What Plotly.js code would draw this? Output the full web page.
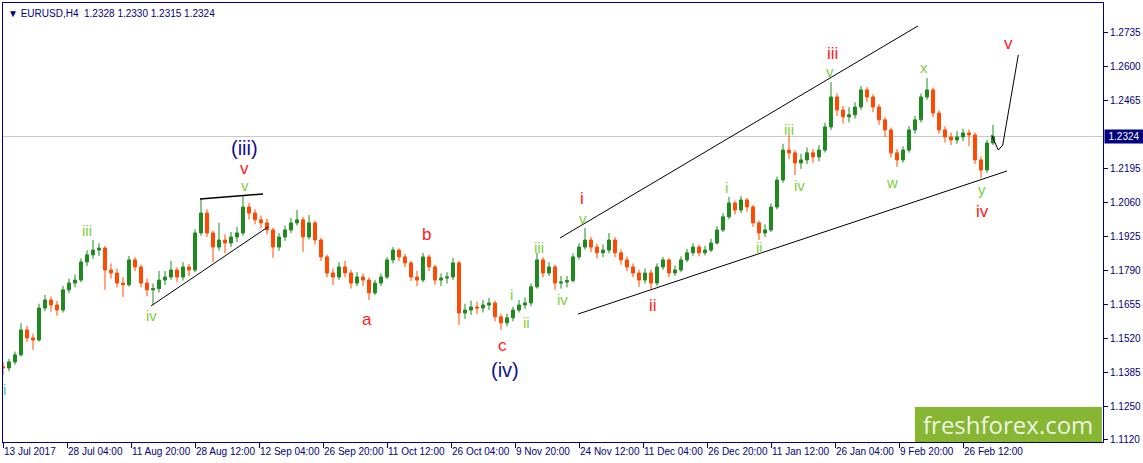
<!DOCTYPE html>
<html>
<head>
<meta charset="utf-8">
<script src="https://cdn.plot.ly/plotly-3.0.1.min.js"></script>
<style>
html,body{margin:0;padding:0;background:#fff;}
#chart{width:1143px;height:463px;}
</style>
</head>
<body>
<div id="chart"></div>
<script>
// Daily OHLC (one value per trading day)
const openP = [
1.1410,1.1405,1.1429,1.1457,1.1556,1.1524,1.1516,1.1643,1.1675,1.1655,
1.1635,1.1715,1.1742,1.1754,1.1826,1.1854,1.1873,1.1881,1.1794,1.1782,
1.1742,1.1735,1.1834,1.1806,1.1742,1.1715,1.1720,1.1754,1.1766,1.1794,
1.1766,1.1806,1.1794,1.1941,1.2020,1.1941,1.1885,1.1913,1.1901,1.1925,
1.1941,1.2044,1.2020,1.1993,1.1981,1.1953,1.1885,1.1925,1.1953,1.1981,
1.1993,1.1925,1.1981,1.1913,1.1846,1.1782,1.1766,1.1806,1.1782,1.1742,
1.1766,1.1754,1.1703,1.1742,1.1766,1.1834,1.1873,1.1846,1.1822,1.1766,
1.1754,1.1846,1.1806,1.1754,1.1762,1.1766,1.1822,1.1623,1.1635,1.1647,
1.1643,1.1655,1.1663,1.1608,1.1584,1.1604,1.1635,1.1655,1.1663,1.1727,
1.1834,1.1782,1.1806,1.1742,1.1746,1.1752,1.1846,1.1885,1.1913,1.1885,
1.1862,1.1873,1.1913,1.1862,1.1834,1.1806,1.1782,1.1754,1.1782,1.1742,
1.1806,1.1834,1.1782,1.1794,1.1834,1.1862,1.1885,1.1862,1.1873,1.1901,
1.1953,1.2005,1.2060,1.2032,1.2072,1.2044,1.1981,1.1941,1.1953,1.2044,
1.2151,1.2270,1.2259,1.2219,1.2231,1.2259,1.2243,1.2270,1.2362,1.2481,
1.2429,1.2402,1.2410,1.2441,1.2509,1.2481,1.2441,1.2390,1.2350,1.2259,
1.2231,1.2270,1.2350,1.2390,1.2481,1.2509,1.2417,1.2350,1.2322,1.2310,
1.2322,1.2338,1.2330,1.2231,1.2191,1.2298];
const highP = [
1.1428,1.1441,1.1470,1.1583,1.1572,1.1541,1.1660,1.1695,1.1688,1.1671,
1.1730,1.1760,1.1776,1.1840,1.1872,1.1913,1.1900,1.1890,1.1820,1.1800,
1.1765,1.1850,1.1845,1.1815,1.1760,1.1740,1.1790,1.1790,1.1830,1.1805,
1.1825,1.1818,1.1955,1.2076,1.2035,1.1950,1.1981,1.1935,1.1945,1.1965,
1.2088,1.2060,1.2035,1.2010,1.1998,1.1962,1.1940,1.1970,1.2000,1.2032,
1.2005,1.2012,1.1990,1.1922,1.1855,1.1800,1.1825,1.1830,1.1795,1.1785,
1.1780,1.1765,1.1755,1.1780,1.1845,1.1885,1.1880,1.1858,1.1830,1.1790,
1.1862,1.1855,1.1815,1.1780,1.1785,1.1842,1.1830,1.1660,1.1672,1.1668,
1.1675,1.1683,1.1672,1.1620,1.1620,1.1648,1.1675,1.1685,1.1740,1.1862,
1.1845,1.1825,1.1815,1.1770,1.1770,1.1860,1.1900,1.1961,1.1925,1.1898,
1.1895,1.1941,1.1925,1.1875,1.1848,1.1820,1.1795,1.1800,1.1795,1.1820,
1.1846,1.1840,1.1812,1.1848,1.1878,1.1900,1.1895,1.1890,1.1918,1.1968,
1.2020,1.2084,1.2070,1.2088,1.2080,1.2052,1.1990,1.1975,1.2058,1.2165,
1.2295,1.2330,1.2270,1.2255,1.2280,1.2275,1.2290,1.2378,1.2540,1.2495,
1.2445,1.2440,1.2460,1.2525,1.2520,1.2492,1.2452,1.2402,1.2360,1.2275,
1.2285,1.2365,1.2405,1.2495,1.2556,1.2518,1.2428,1.2365,1.2340,1.2345,
1.2355,1.2352,1.2340,1.2245,1.2310,1.2370];
const lowP = [
1.1377,1.1392,1.1418,1.1450,1.1508,1.1477,1.1510,1.1630,1.1628,1.1612,
1.1625,1.1702,1.1725,1.1745,1.1810,1.1838,1.1850,1.1715,1.1760,1.1725,
1.1687,1.1728,1.1790,1.1725,1.1690,1.1655,1.1705,1.1735,1.1755,1.1745,
1.1752,1.1770,1.1785,1.1930,1.1925,1.1826,1.1870,1.1860,1.1885,1.1905,
1.1930,1.1995,1.1975,1.1960,1.1935,1.1842,1.1870,1.1910,1.1940,1.1970,
1.1866,1.1915,1.1895,1.1830,1.1765,1.1735,1.1755,1.1765,1.1720,1.1730,
1.1730,1.1675,1.1695,1.1730,1.1758,1.1820,1.1830,1.1805,1.1750,1.1730,
1.1745,1.1790,1.1735,1.1730,1.1740,1.1755,1.1576,1.1600,1.1615,1.1620,
1.1625,1.1635,1.1590,1.1556,1.1570,1.1590,1.1625,1.1640,1.1650,1.1720,
1.1765,1.1770,1.1715,1.1720,1.1725,1.1745,1.1835,1.1875,1.1865,1.1840,
1.1845,1.1860,1.1845,1.1815,1.1790,1.1765,1.1727,1.1740,1.1719,1.1730,
1.1795,1.1765,1.1770,1.1785,1.1825,1.1850,1.1848,1.1852,1.1865,1.1895,
1.1945,1.1995,1.2015,1.2020,1.2025,1.1965,1.1913,1.1925,1.1945,1.2035,
1.2140,1.2235,1.2171,1.2195,1.2215,1.2220,1.2225,1.2260,1.2350,1.2405,
1.2375,1.2380,1.2395,1.2430,1.2460,1.2420,1.2370,1.2322,1.2240,1.2203,
1.2220,1.2260,1.2335,1.2380,1.2470,1.2400,1.2335,1.2300,1.2290,1.2295,
1.2305,1.2285,1.2215,1.2159,1.2180,1.2290];
const closeP = [
1.1405,1.1429,1.1457,1.1556,1.1524,1.1516,1.1643,1.1675,1.1655,1.1635,
1.1715,1.1742,1.1754,1.1826,1.1854,1.1873,1.1881,1.1794,1.1782,1.1742,
1.1735,1.1834,1.1806,1.1742,1.1715,1.1720,1.1754,1.1766,1.1794,1.1766,
1.1806,1.1794,1.1941,1.2020,1.1941,1.1885,1.1913,1.1901,1.1925,1.1941,
1.2044,1.2020,1.1993,1.1981,1.1953,1.1885,1.1925,1.1953,1.1981,1.1993,
1.1925,1.1981,1.1913,1.1846,1.1782,1.1766,1.1806,1.1782,1.1742,1.1766,
1.1754,1.1703,1.1742,1.1766,1.1834,1.1873,1.1846,1.1822,1.1766,1.1754,
1.1846,1.1806,1.1754,1.1762,1.1766,1.1822,1.1623,1.1635,1.1647,1.1643,
1.1655,1.1663,1.1608,1.1584,1.1604,1.1635,1.1655,1.1663,1.1727,1.1834,
1.1782,1.1806,1.1742,1.1746,1.1752,1.1846,1.1885,1.1913,1.1885,1.1862,
1.1873,1.1913,1.1862,1.1834,1.1806,1.1782,1.1754,1.1782,1.1742,1.1806,
1.1834,1.1782,1.1794,1.1834,1.1862,1.1885,1.1862,1.1873,1.1901,1.1953,
1.2005,1.2060,1.2032,1.2072,1.2044,1.1981,1.1941,1.1953,1.2044,1.2151,
1.2270,1.2259,1.2219,1.2231,1.2259,1.2243,1.2270,1.2362,1.2481,1.2429,
1.2402,1.2410,1.2441,1.2509,1.2481,1.2441,1.2390,1.2350,1.2259,1.2231,
1.2270,1.2350,1.2390,1.2481,1.2509,1.2417,1.2350,1.2322,1.2310,1.2322,
1.2338,1.2330,1.2231,1.2191,1.2298,1.2324];

// x-axis labels (one every 64 H4 bars)
const dateLabels = ["13 Jul 2017","28 Jul 04:00","11 Aug 20:00","28 Aug 12:00","12 Sep 04:00",
  "26 Sep 20:00","11 Oct 12:00","26 Oct 04:00","9 Nov 20:00","24 Nov 12:00","11 Dec 04:00",
  "26 Dec 20:00","11 Jan 12:00","26 Jan 04:00","9 Feb 20:00","26 Feb 12:00"];
const priceTicks = [1.2735,1.2600,1.2465,1.2195,1.2060,1.1925,1.1790,1.1655,1.1520,1.1385,1.1250,1.1120];
const lastPrice = 1.2324;
const headerText = "EURUSD,H4  1.2328 1.2330 1.2315 1.2324";

// Wave labels: text, day, price, degree
const waveText  = ["i","iii","iv","v","v","(iii)","a","b","c","(iv)","i","ii","iii","iv","i","v","ii","i","ii","iii","iv","iii","v","w","x","y","iv","v"];
const waveDay   = [0.33,14.0,24.83,40.33,40.33,40.33,60.67,70.5,83.17,83.67,84.83,87.33,89.33,93.17,96.5,96.67,108.33,120.5,126.0,131.0,132.83,138.17,137.83,148.17,153.5,163.17,163.17,167.5];
const wavePrice = [1.1318,1.1949,1.1615,1.2128,1.2195,1.2278,1.1596,1.1933,1.1496,1.1397,1.1695,1.1584,1.1885,1.1675,1.2076,1.1997,1.1651,1.2120,1.1885,1.2350,1.2128,1.2652,1.2584,1.2143,1.2596,1.2112,1.2028,1.2695];
const waveDegree= ["t","g","g","g","r","n","r","r","r","n","g","g","g","g","r","g","r","g","g","g","g","r","g","g","g","g","r","r"];

// Trend lines (day, price)
const flatTopDay = [32.83,43.33], flatTopPrice = [1.2076,1.2096];
const wedgeDay = [24.67,44.17], wedgePrice = [1.1651,1.1965];
const chanTopDay = [92.83,152.5], chanTopPrice = [1.1921,1.2763];
const chanBotDay = [95.83,167.33], chanBotPrice = [1.1619,1.2187];
const projDay = [164.78,165.88,166.62,169.22], projPrice = [1.2330,1.2270,1.2290,1.2648];

const days = closeP.map((_, i) => i);
const barsPerDay = 6, barsPerLabel = 64;

const lineStyle = {color:'#000', width:1};
const traces = [
  {type:'candlestick', x:days, open:openP, high:highP, low:lowP, close:closeP,
   increasing:{line:{color:'#1f8a1f', width:1}, fillcolor:'#1f8a1f'},
   decreasing:{line:{color:'#ff4a00', width:1}, fillcolor:'#ff4a00'},
   whiskerwidth:0, hoverinfo:'skip', showlegend:false},
  {type:'scatter', mode:'lines', x:flatTopDay, y:flatTopPrice, line:{color:'#000',width:1.5}, hoverinfo:'skip', showlegend:false},
  {type:'scatter', mode:'lines', x:wedgeDay, y:wedgePrice, line:lineStyle, hoverinfo:'skip', showlegend:false},
  {type:'scatter', mode:'lines', x:chanTopDay, y:chanTopPrice, line:lineStyle, hoverinfo:'skip', showlegend:false},
  {type:'scatter', mode:'lines', x:chanBotDay, y:chanBotPrice, line:lineStyle, hoverinfo:'skip', showlegend:false},
  {type:'scatter', mode:'lines', x:projDay, y:projPrice, line:lineStyle, hoverinfo:'skip', showlegend:false}
];

const degStyle = {
  t:{color:'#4cc7a8', size:15},
  g:{color:'#7ccf3a', size:15},
  r:{color:'#ff1a1a', size:17},
  n:{color:'#12128c', size:20}
};
const annotations = waveText.map((t, i) => ({
  x:waveDay[i], y:wavePrice[i], xref:'x', yref:'y', text:t, showarrow:false,
  xanchor:'center', yanchor:'middle',
  font:{family:'Liberation Sans, Arial, sans-serif', size:degStyle[waveDegree[i]].size, color:degStyle[waveDegree[i]].color}
}));
annotations.push({
  xref:'paper', yref:'paper', x:0, y:1, xanchor:'left', yanchor:'top', xshift:3, yshift:-3,
  text:'▼ ' + headerText.replace(/ /g,'&nbsp;'), showarrow:false,
  font:{family:'Liberation Sans, Arial, sans-serif', size:10, color:'#000080'}
});
annotations.push({
  xref:'paper', yref:'y', x:1, y:lastPrice, xanchor:'left', yanchor:'middle', xshift:1,
  text:lastPrice.toFixed(4), showarrow:false, bgcolor:'#000080', borderpad:1, width:36, align:'center',
  font:{family:'Liberation Sans, Arial, sans-serif', size:10, color:'#ffffff'}
});
annotations.push({
  xref:'paper', yref:'paper', x:0.914, y:0.04, xanchor:'center', yanchor:'middle',
  text:'freshforex.com', showarrow:false,
  font:{family:'Open Sans, sans-serif', size:24, color:'#eef4e2'}
});

const layout = {
  width:1143, height:463,
  margin:{l:3, r:40, t:3, b:21},
  paper_bgcolor:'#fff', plot_bgcolor:'#fff',
  showlegend:false,
  xaxis:{
    range:[0, 1100/barsPerDay], rangeslider:{visible:false}, fixedrange:true,
    tickvals:dateLabels.map((_, k) => k*barsPerLabel/barsPerDay), ticktext:dateLabels,
    tickangle:0, automargin:false,
    ticks:'outside', ticklen:5, tickcolor:'#000080', ticklabelposition:'outside right',
    tickfont:{family:'Liberation Sans, Arial, sans-serif', size:10, color:'#000080'},
    showgrid:false, zeroline:false, showline:true, linecolor:'#000080', linewidth:1, mirror:true
  },
  yaxis:{
    range:[1.1111, 1.2854], side:'right', fixedrange:true, automargin:false,
    tickvals:priceTicks, ticktext:priceTicks.map(v => v.toFixed(4)),
    ticks:'outside', ticklen:4, tickcolor:'#000080',
    tickfont:{family:'Liberation Sans, Arial, sans-serif', size:10, color:'#000080'},
    showgrid:false, zeroline:false, showline:true, linecolor:'#000080', linewidth:1, mirror:true
  },
  shapes:[
    {type:'line', xref:'paper', yref:'y', x0:0, x1:1, y0:lastPrice, y1:lastPrice, line:{color:'#c8c8c8', width:1}, layer:'below'},
    {type:'rect', xref:'paper', yref:'paper', x0:0.829, x1:0.999, y0:0.0, y1:0.0797, fillcolor:'#86b632', line:{width:0}, layer:'above'}
  ],
  annotations:annotations
};

Plotly.newPlot('chart', traces, layout, {displayModeBar:false, staticPlot:true});
</script>
</body>
</html>
